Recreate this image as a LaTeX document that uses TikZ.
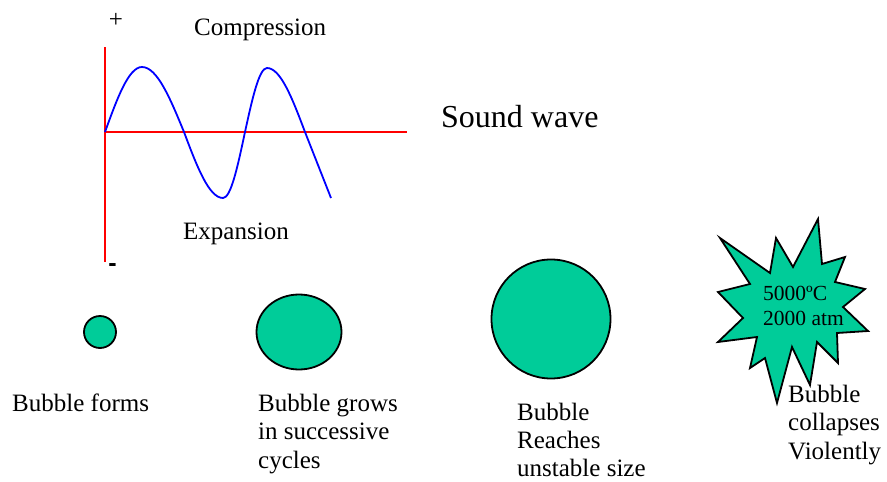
\documentclass[tikz,border=0pt]{standalone}
\usepackage{fontspec}
\setmainfont{Liberation Serif}
\setsansfont{Liberation Sans}
\usetikzlibrary{shapes.geometric}
\definecolor{bubblegreen}{RGB}{0,204,153}

\begin{document}
\begin{tikzpicture}[x=1pt, y=-1pt, every node/.style={inner sep=0pt},
    caption/.style={font=\fontsize{25}{28.5}\selectfont, anchor=base west, align=left},
    bubble/.style={draw=black, line width=1.8pt, fill=bubblegreen}]
    \useasboundingbox (0,0) rectangle (887,482);

    % 1. 坐标轴
    \coordinate (O) at (105,132);
    \coordinate (Top) at (105,47);
    \coordinate (Bot) at (105,262);
    \coordinate (Right) at (407,132);
    \draw[red, line width=1.8pt] (Top) -- (Bot);
    \draw[red, line width=1.8pt] (O) -- (Right);

    % 2. 声波曲线
    \draw[blue, line width=1.8pt] (O) sin (142,67) cos (184,132) sin (223,198)
        cos (245,132) sin (267,68) cos (305,132) -- (331,198);

    % 3. 坐标轴标签
    \node[font=\fontsize{25}{28}\selectfont] (plus) at (116,20) {+};
    \node[font=\fontsize{25}{28}\sffamily\bfseries\selectfont] (minus) at (112.5,268) {-};
    \node[caption] (comp) at (194,35) {Compression};
    \node[caption] (exp) at (183,239) {Expansion};
    \node[caption, font=\fontsize{32}{36}\selectfont] (wave) at (441,127) {Sound wave};

    % 4. 气泡
    \node[bubble, circle, minimum size=32pt] (b1) at (100,332) {};
    \node[bubble, ellipse, minimum width=85pt, minimum height=75pt] (b2) at (299,332) {};
    \node[bubble, circle, minimum size=119pt] (b3) at (551,319) {};

    % 5. 爆裂的气泡 (星形)
    \draw[bubble] (720,238) -- (770,273) -- (776,238) -- (793,267) -- (818,219)
        -- (822,264) -- (845,257) -- (835,282) -- (865,289) -- (843,307)
        -- (868,331) -- (837,333) -- (838,363) -- (817,342) -- (810,385)
        -- (792,347) -- (777,403) -- (765,358) -- (750,368) -- (757,337)
        -- (718,342) -- (743,318) -- (718,292) -- (750,284) -- cycle;
    % 多行节点的 base 锚点在最后一行
    \node[font=\fontsize{21.5}{25}\selectfont, anchor=base west, align=left] (hot) at (763,325)
        {5000ºC\\2000 atm};

    % 6. 说明文字
    \node[caption] (t1) at (12,411) {Bubble forms};
    \node[caption] (t2) at (258,468) {Bubble grows\\in successive\\cycles};
    \node[caption, font=\fontsize{25}{28}\selectfont] (t3) at (517,476) {Bubble\\Reaches\\unstable size};
    \node[caption] (t4) at (788,459) {Bubble\\collapses\\Violently};

\end{tikzpicture}
\end{document}
